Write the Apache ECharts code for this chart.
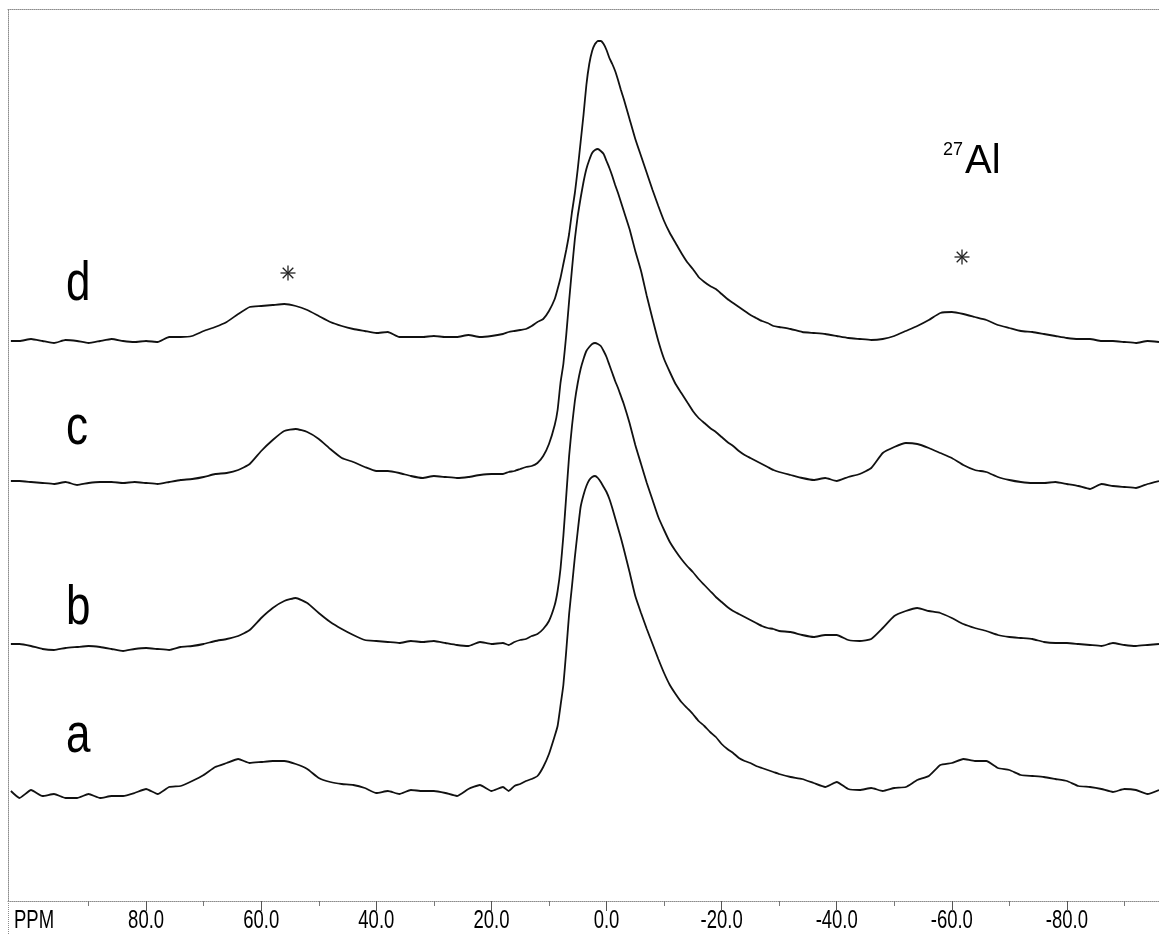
<!DOCTYPE html>
<html>
<head>
<meta charset="utf-8">
<title>27Al MAS NMR spectra</title>
<script src="https://cdn.jsdelivr.net/npm/echarts@6/dist/echarts.min.js"></script>
<style>
  html, body { margin: 0; padding: 0; background: #ffffff; }
  #chart { width: 1159px; height: 934px; }
</style>
</head>
<body>
<div id="chart"></div>
<script>
// Chemical shift sampling (ppm), denser across the central resonance
const ppm = [
  103.5, 102, 100, 98, 96, 94, 92, 90, 88, 86, 84, 82, 80, 78, 76, 74, 72, 70, 68, 66,
  64, 62, 60, 58, 56, 54, 52, 50, 48, 46, 44, 42, 40, 38, 36, 34, 32, 30, 28, 26,
  24, 22, 20, 18,
  17, 16, 15, 14, 13, 12, 11, 10, 9,
  8.5, 8, 7.5, 7, 6.5, 6, 5.5, 5, 4.5, 4, 3.5, 3, 2.5, 2, 1.5, 1, 0.5, 0,
  -0.5, -1, -1.5, -2, -2.5, -3,
  -4, -5, -6, -7, -8, -9, -10, -11, -12, -13, -14, -15, -16, -17, -18, -19, -20,
  -21, -22, -23, -24, -25, -26, -27, -28, -29, -30,
  -32, -34, -36, -38, -40, -42, -44, -46, -48, -50, -52, -54, -56, -58, -60,
  -62, -64, -66, -68, -70, -72, -74, -76, -78, -80, -82, -84, -86, -88, -90,
  -92, -94, -96
];

// Intensities (arbitrary units, baseline ~ 0) for each sample
const specA = [
  2, -5, 3, -3, -1, -5, -5, -1, -5, -3, -3, 0, 4, -1, 6, 7, 12, 18, 26, 30,
  34, 30, 31, 32, 32, 29, 24, 15, 11, 9, 8, 5, 0, 2, -1, 3, 2, 2, 0, -3,
  4, 8, 2, 6,
  2, 7, 9, 12, 14, 17, 26, 39, 57,
  67, 87, 108, 142, 179, 207, 236, 262, 286, 298, 307, 313, 316, 317, 315, 311, 306, 301,
  294, 285, 275, 265, 255, 244,
  221, 197, 180, 164, 149, 134, 120, 108, 99, 91, 85, 79, 72, 67, 61, 56, 49,
  44, 40, 35, 32, 30, 27, 25, 23, 21, 19,
  16, 14, 10, 6, 11, 4, 3, 5, 2, 5, 6, 13, 17, 28, 30,
  34, 32, 32, 25, 23, 18, 17, 16, 14, 12, 7, 6, 4, 1, 4,
  3, -1, 3
];
const specB = [
  1, 1, -1, -4, -5, -3, -2, -1, -2, -4, -6, -4, -3, -4, -5, -2, -1, 1, 4, 6,
  9, 15, 27, 37, 44, 47, 42, 32, 23, 16, 10, 5, 4, 3, 2, 4, 3, 4, 2, 0,
  -1, 3, 1, 2,
  0, 3, 5, 6, 9, 11, 16, 24, 40,
  54, 76, 109, 149, 189, 219, 244, 262, 276, 286, 294, 298, 301, 302, 301, 299, 294, 288,
  280, 272, 264, 257, 249, 241,
  222, 200, 181, 162, 145, 128, 115, 103, 94, 86, 79, 73, 66, 60, 54, 48, 43,
  38, 34, 31, 28, 25, 22, 19, 17, 16, 14,
  13, 10, 8, 10, 10, 5, 4, 6, 17, 29, 34, 37, 34, 32, 27,
  21, 17, 14, 10, 8, 7, 6, 3, 2, 2, 1, 0, -1, 2, 0,
  -1, 0, 1
];
const specC = [
  1, 1, 0, -1, -2, 0, -3, -1, 0, 0, -1, 0, -1, -2, 0, 2, 3, 5, 8, 9,
  12, 18, 31, 42, 51, 53, 50, 43, 33, 24, 20, 15, 11, 11, 9, 6, 4, 6, 5, 4,
  5, 7, 8, 8,
  10, 11, 13, 15, 16, 19, 26, 38, 57,
  72, 99, 118, 147, 181, 213, 243, 266, 284, 300, 313, 322, 329, 332, 333, 331, 328, 321,
  314, 306, 297, 289, 280, 271,
  253, 231, 211, 186, 163, 141, 123, 110, 98, 89, 80, 71, 64, 59, 54, 50, 45,
  40, 36, 31, 27, 24, 21, 18, 15, 12, 10,
  7, 4, 2, 4, 1, 5, 8, 14, 29, 35, 39, 38, 34, 29, 24,
  17, 12, 10, 5, 2, 0, -1, -1, 0, -2, -4, -7, -2, -4, -5,
  -6, -2, 1
];
const specD = [
  0, 0, 2, 0, -2, 1, 0, -2, 0, 2, 0, -1, 0, -1, 4, 4, 5, 10, 14, 19,
  27, 34, 35, 36, 37, 35, 31, 25, 19, 15, 12, 10, 8, 9, 4, 4, 4, 5, 4, 4,
  6, 4, 5, 7,
  9, 10, 11, 12, 15, 19, 22, 30, 42,
  52, 63, 77, 91, 107, 129, 148, 172, 199, 226, 256, 277, 290, 297, 300, 300, 297, 291,
  283, 277, 270, 261, 251, 242,
  222, 202, 185, 168, 151, 135, 120, 108, 98, 88, 79, 72, 64, 59, 55, 52, 47,
  42, 38, 34, 30, 26, 23, 20, 18, 15, 14,
  12, 9, 8, 7, 5, 3, 2, 1, 2, 5, 10, 15, 21, 28, 29,
  27, 24, 21, 16, 13, 10, 9, 7, 5, 3, 2, 2, 0, 0, -1,
  -2, 0, -1
];

const spectrumNames = ['a', 'b', 'c', 'd'];
const spectra = [specA, specB, specC, specD];
// Vertical stacking offset of each trace
const stackOffsets = [108, 256, 419, 560];

const majorTicks = [80, 60, 40, 20, 0, -20, -40, -60, -80];
const minorTicks = [90, 70, 50, 30, 10, -10, -30, -50, -70, -90];
const axisUnit = 'PPM';
const nucleusMass = '27';
const nucleusSymbol = 'Al';

const sansFont = "'Liberation Sans', Arial, sans-serif";
const frameColor = '#8c8c8c';
const frameLine = { color: frameColor, type: 'dotted', width: 1 };

const chart = echarts.init(document.getElementById('chart'), null, { renderer: 'canvas' });

const series = spectra.map((vals, k) => ({
  name: spectrumNames[k],
  type: 'line',
  data: ppm.map((p, i) => [p, stackOffsets[k] + vals[i]]),
  showSymbol: false,
  symbol: 'none',
  smooth: 0.15,
  lineStyle: { color: '#111111', width: 1.8 },
  silent: true
}));

// eight-spoke asterisk marking a spinning sideband
function asterisk(cx, cy, r) {
  const d = r * Math.SQRT1_2;
  const segs = [[0, -r, 0, r], [-r, 0, r, 0], [-d, -d, d, d], [-d, d, d, -d]];
  return {
    type: 'group',
    children: segs.map(s => ({
      type: 'line',
      shape: { x1: cx + s[0], y1: cy + s[1], x2: cx + s[2], y2: cy + s[3] },
      style: { stroke: '#222', lineWidth: 1.3 }
    }))
  };
}

// narrow-set text: regular face compressed horizontally
function narrowText(str, x, y, size, sx, align) {
  return {
    type: 'text', x: x, y: y, scaleX: sx, scaleY: 1,
    style: { text: str, font: size + 'px ' + sansFont, fill: '#000', align: align || 'left', verticalAlign: 'top' }
  };
}

const letterBaselines = { a: 755, b: 627, c: 447, d: 303 };
const letterTexts = spectrumNames.map(n => narrowText(n, 66, letterBaselines[n] - 46, 55, 0.8));

const fixedGraphics = [
  ...letterTexts,
  narrowText(axisUnit, 14, 909, 25, 0.74),
  {
    type: 'text', x: 943, y: 141,
    style: { text: nucleusMass, font: '18px ' + sansFont, fill: '#000', verticalAlign: 'top' }
  },
  {
    type: 'text', x: 965, y: 142,
    style: { text: nucleusSymbol, font: '40px ' + sansFont, fill: '#000', verticalAlign: 'top' }
  },
  asterisk(288, 273, 7.5),
  asterisk(962, 257, 7.5)
];

chart.setOption({
  animation: false,
  backgroundColor: '#ffffff',
  grid: { left: 8, right: 0, top: 9, bottom: 33, containLabel: false },
  xAxis: [
    {
      type: 'value', inverse: true, min: -96, max: 104, position: 'bottom',
      axisLine: { show: true, onZero: false, lineStyle: frameLine },
      axisTick: { show: true, customValues: majorTicks, length: 10, lineStyle: { color: '#555', width: 1 } },
      axisLabel: { show: false },
      splitLine: { show: false }
    },
    {
      type: 'value', inverse: true, min: -96, max: 104, position: 'bottom',
      axisLine: { show: false, onZero: false },
      axisTick: { show: true, customValues: minorTicks, length: 5, lineStyle: { color: '#777', width: 1 } },
      axisLabel: { show: false },
      splitLine: { show: false }
    },
    {
      type: 'value', inverse: true, min: -96, max: 104, position: 'top',
      axisLine: { show: true, onZero: false, lineStyle: frameLine },
      axisTick: { show: false }, axisLabel: { show: false }, splitLine: { show: false }
    }
  ],
  yAxis: {
    type: 'value', min: 0, max: 892, position: 'left',
    axisLine: { show: true, onZero: false, lineStyle: frameLine },
    axisTick: { show: false }, axisLabel: { show: false }, splitLine: { show: false }
  },
  series: series,
  graphic: fixedGraphics
});

// Tick labels in a condensed setting, placed at the axis' own pixel positions
const tickLabelGraphics = majorTicks.map(v =>
  narrowText(v.toFixed(1), chart.convertToPixel({ xAxisIndex: 0 }, v), 909, 25, 0.74, 'center')
);
// the left frame edge runs on past the axis to the bottom of the sheet
const leftX = chart.convertToPixel({ xAxisIndex: 0 }, 104);
const axisY = chart.convertToPixel({ yAxisIndex: 0 }, 0);
const frameTail = {
  type: 'line',
  shape: { x1: leftX + 0.5, y1: axisY, x2: leftX + 0.5, y2: 934 },
  style: { stroke: frameColor, lineWidth: 1, lineDash: [1, 1] }
};
chart.setOption({ graphic: [...fixedGraphics, ...tickLabelGraphics, frameTail] });
</script>
</body>
</html>
